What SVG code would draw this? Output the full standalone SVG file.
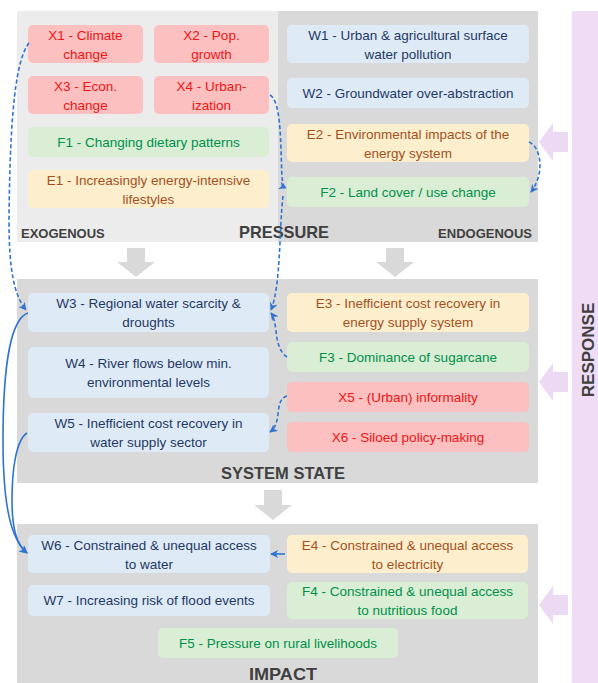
<svg xmlns="http://www.w3.org/2000/svg" width="598" height="683" viewBox="0 0 598 683">
<defs>
<style>
text{font-family:"Liberation Sans",Arial,sans-serif;font-size:13.5px;text-anchor:middle}
.r rect{fill:#fdc0c0}.r text{fill:#f01414}
.g rect{fill:#d9eed5}.g text{fill:#00904a}
.o rect{fill:#fdefcd}.o text{fill:#a5501c}
.b rect{fill:#deebf7}.b text{fill:#1f3864}
.ttl{font-weight:bold;font-size:17px;fill:#404040}
.sub{font-weight:bold;font-size:13px;fill:#404040}
.dash{fill:none;stroke:#2f74d0;stroke-width:1.6;stroke-dasharray:4 2.5}
.sol{fill:none;stroke:#2f74d0;stroke-width:1.6}
.garr{fill:#d9d9d9}
.parr{fill:#ecd9f3}
</style>
<marker id="ah" viewBox="0 0 10 10" refX="9" refY="5" markerWidth="8" markerHeight="8" markerUnits="userSpaceOnUse" orient="auto">
<path d="M0 0 L10 5 L0 10 L3 5 Z" fill="#2f74d0"/>
</marker>
</defs>

<!-- panels -->
<rect x="17" y="11" width="261" height="231" fill="#ececec"/>
<rect x="278" y="11" width="260" height="231" fill="#d9d9d9"/>
<rect x="17" y="279" width="521" height="204" fill="#d9d9d9"/>
<rect x="17" y="524" width="521" height="170" fill="#d9d9d9"/>
<rect x="572" y="11" width="40" height="680" fill="#efdcf5"/>

<!-- gray down arrows -->
<path class="garr" d="M127 248 H145 V262 H155 L136 277 L117 262 H127 Z"/>
<path class="garr" d="M386 248 H404 V262 H414 L395 277 L376 262 H386 Z"/>
<path class="garr" d="M264 490 H282 V505 H292 L273 520 L254 505 H264 Z"/>

<!-- purple response arrows -->
<path class="parr" d="M568 132 H553 V123 L539 142 L553 161 V152 H568 Z"/>
<path class="parr" d="M568 372 H553 V363 L539 382 L553 401 V392 H568 Z"/>
<path class="parr" d="M568 595 H553 V586 L539 605 L553 624 V615 H568 Z"/>

<!-- labels -->
<text class="sub" x="21" y="238" style="text-anchor:start">EXOGENOUS</text>
<text class="sub" x="532" y="238" style="text-anchor:end">ENDOGENOUS</text>
<text class="ttl" x="284" y="238" textLength="90" lengthAdjust="spacingAndGlyphs">PRESSURE</text>
<text class="ttl" x="283" y="479" textLength="124" lengthAdjust="spacingAndGlyphs">SYSTEM STATE</text>
<text class="ttl" x="283" y="680" textLength="68" lengthAdjust="spacingAndGlyphs">IMPACT</text>
<text class="ttl" transform="translate(594 350) rotate(-90)">RESPONSE</text>

<!-- PRESSURE nodes -->
<g id="X1" class="r"><rect x="28" y="25" width="115" height="38" rx="5"/><text x="85.5" y="40">X1 - Climate</text><text x="85.5" y="59">change</text></g>
<g id="X2" class="r"><rect x="154" y="25" width="115" height="38" rx="5"/><text x="211.5" y="40">X2 - Pop.</text><text x="211.5" y="59">growth</text></g>
<g id="X3" class="r"><rect x="28" y="76" width="115" height="38" rx="5"/><text x="85.5" y="91">X3 - Econ.</text><text x="85.5" y="110">change</text></g>
<g id="X4" class="r"><rect x="154" y="76" width="115" height="38" rx="5"/><text x="211.5" y="91">X4 - Urban-</text><text x="211.5" y="110">ization</text></g>
<g id="F1" class="g"><rect x="28" y="127" width="241" height="30" rx="5"/><text x="148.5" y="147">F1 - Changing dietary patterns</text></g>
<g id="E1" class="o"><rect x="28" y="170" width="241" height="38" rx="5"/><text x="148.5" y="185">E1 - Increasingly energy-intensive</text><text x="148.5" y="204">lifestyles</text></g>
<g id="W1" class="b"><rect x="287" y="25" width="242" height="38" rx="5"/><text x="408" y="40">W1 - Urban &amp; agricultural surface</text><text x="408" y="59">water pollution</text></g>
<g id="W2" class="b"><rect x="287" y="78" width="242" height="30" rx="5"/><text x="408" y="98">W2 - Groundwater over-abstraction</text></g>
<g id="E2" class="o"><rect x="287" y="124" width="242" height="38" rx="5"/><text x="408" y="139">E2 - Environmental impacts of the</text><text x="408" y="158">energy system</text></g>
<g id="F2" class="g"><rect x="287" y="177" width="242" height="30" rx="5"/><text x="408" y="197">F2 - Land cover / use change</text></g>

<!-- SYSTEM STATE nodes -->
<g id="W3" class="b"><rect x="28" y="293" width="241" height="39" rx="5"/><text x="148.5" y="308">W3 - Regional water scarcity &amp;</text><text x="148.5" y="327">droughts</text></g>
<g id="W4" class="b"><rect x="28" y="347" width="241" height="51" rx="6"/><text x="148.5" y="368">W4 - River flows below min.</text><text x="148.5" y="387">environmental levels</text></g>
<g id="W5" class="b"><rect x="28" y="413" width="241" height="39" rx="5"/><text x="148.5" y="428">W5 - Inefficient cost recovery in</text><text x="148.5" y="447">water supply sector</text></g>
<g id="E3" class="o"><rect x="287" y="293" width="242" height="39" rx="5"/><text x="408" y="308">E3 - Inefficient cost recovery in</text><text x="408" y="327">energy supply system</text></g>
<g id="F3" class="g"><rect x="287" y="342" width="242" height="30" rx="5"/><text x="408" y="362">F3 - Dominance of sugarcane</text></g>
<g id="X5" class="r"><rect x="287" y="382" width="242" height="30" rx="5"/><text x="408" y="402">X5 - (Urban) informality</text></g>
<g id="X6" class="r"><rect x="287" y="422" width="242" height="30" rx="5"/><text x="408" y="442">X6 - Siloed policy-making</text></g>

<!-- IMPACT nodes -->
<g id="W6" class="b"><rect x="28" y="535" width="242" height="38" rx="5"/><text x="149" y="550">W6 - Constrained &amp; unequal access</text><text x="149" y="569">to water</text></g>
<g id="E4" class="o"><rect x="287" y="535" width="241" height="38" rx="5"/><text x="407.5" y="550">E4 - Constrained &amp; unequal access</text><text x="407.5" y="569">to electricity</text></g>
<g id="W7" class="b"><rect x="28" y="585" width="242" height="31" rx="5"/><text x="149" y="605">W7 - Increasing risk of flood events</text></g>
<g id="F4" class="g"><rect x="287" y="582" width="241" height="37" rx="5"/><text x="407.5" y="596">F4 - Constrained &amp; unequal access</text><text x="407.5" y="615">to nutritious food</text></g>
<g id="F5" class="g"><rect x="158" y="628" width="240" height="30" rx="5"/><text x="278" y="648">F5 - Pressure on rural livelihoods</text></g>

<!-- connectors -->
<g id="connectors">
<path class="dash" marker-end="url(#ah)" d="M29 43 C16 60 10 110 9 220 C9 270 14 295 26 310"/>
<path class="dash" marker-end="url(#ah)" d="M270 95 C278 100 280 120 281 150 C282 172 281 186 286 188"/>
<path class="dash" marker-end="url(#ah)" d="M283 196 C279 230 281 285 271 310"/>
<path class="dash" marker-end="url(#ah)" d="M529 142 C540 146 546 172 531 192"/>
<path class="dash" marker-end="url(#ah)" d="M287 357 C280 353 277 342 276 331 C275 323 274 317 271 313"/>
<path class="dash" marker-end="url(#ah)" d="M287 396 C280 398 279 405 278 414 C277 424 274 429 270 432"/>
<path class="sol" marker-end="url(#ah)" d="M28 313 C12 318 3 360 3 440 C3 510 12 540 27 553"/>
<path class="sol" marker-end="url(#ah)" d="M27 433 C16 440 12 470 12 500 C12 530 17 545 27 553"/>
<path class="sol" marker-end="url(#ah)" d="M285 554 L271 554"/>
</g>
</svg>
